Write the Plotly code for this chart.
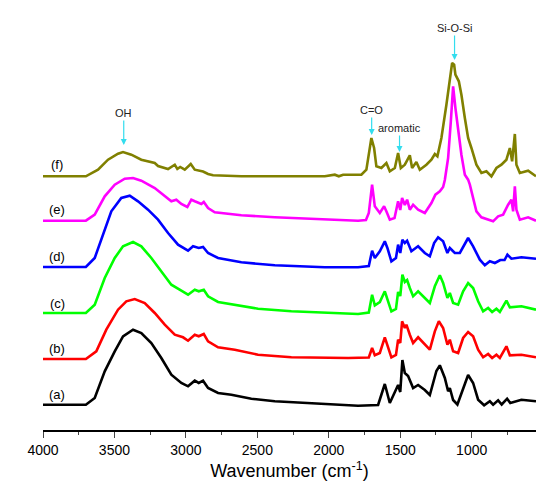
import plotly.graph_objects as go

# FTIR spectra (a)-(f), stacked, intensity in a.u. as plotted
wn_a = [4000, 3700, 3638, 3568, 3498, 3440, 3370, 3312, 3242, 3172, 3102, 3032, 2985, 2938, 2910, 2880, 2845, 2775,
        2682, 2542, 2378, 2145, 1795, 1655, 1608, 1573, 1515, 1500, 1485, 1468, 1445, 1410, 1375, 1328, 1293, 1247,
        1223, 1188, 1165, 1153, 1130, 1100, 1060, 1025, 990, 955, 913, 873, 850, 815, 790, 752, 730, 652, 550]
ab_a = [25.3, 25.3, 32, 58.7, 78.7, 93.7, 100.3, 97, 87, 72, 55.3, 47, 43.7, 49.3, 47, 49.3, 42, 37,
        35.3, 31.3, 28.7, 27, 24.3, 25, 46, 27, 45, 38, 70, 57, 54, 42, 45, 40, 35, 59,
        64.7, 52, 38.7, 42, 30, 25.5, 42, 55, 47, 30.3, 24.7, 28.7, 25.3, 29.7, 25.5, 31.3, 27, 30.3, 28.7]

wn_b = [4000, 3700, 3627, 3557, 3475, 3417, 3358, 3288, 3218, 3148, 3078, 3020, 2985, 2938, 2910, 2875, 2845, 2775,
        2658, 2495, 2262, 1865, 1720, 1697, 1678, 1643, 1608, 1590, 1562, 1530, 1515, 1500, 1487, 1468, 1457, 1433,
        1410, 1375, 1340, 1293, 1258, 1230, 1200, 1170, 1153, 1130, 1095, 1060, 1025, 990, 955, 920, 885, 857, 827,
        803, 757, 733, 652, 550]
ab_b = [71, 71, 78.7, 100.3, 120.3, 128.7, 131, 127, 117, 105.3, 95.3, 92.7, 89.3, 95.3, 93.7, 96, 88.7, 82.7,
        80.3, 75.3, 72.7, 72, 72.5, 82, 74.7, 77, 92.7, 85, 72.7, 75, 90.3, 87, 108.7, 102, 105.3, 95.3,
        87, 92.7, 87, 80.3, 98.7, 108.7, 102, 85.3, 90.3, 78.7, 77, 92, 98, 93.7, 80.3, 72.7, 76, 72, 75.3,
        72, 83.7, 74.7, 75.3, 72.7]

wn_c = [4000, 3700, 3638, 3568, 3498, 3440, 3370, 3312, 3242, 3172, 3102, 3032, 2985, 2938, 2910, 2875, 2845, 2775,
        2658, 2495, 2262, 1795, 1720, 1697, 1678, 1643, 1608, 1590, 1562, 1530, 1515, 1500, 1485, 1468, 1452, 1433,
        1410, 1375, 1340, 1293, 1258, 1223, 1200, 1170, 1153, 1130, 1095, 1060, 1025, 990, 955, 920, 885, 857, 827,
        803, 757, 733, 652, 550]
ab_c = [117, 117, 125.3, 152, 172, 183.7, 188, 183.7, 172, 158.7, 145.3, 139.3, 135.3, 140.3, 138.7, 140.3, 133.7, 128,
        125.3, 121.3, 118.7, 116, 117.5, 135.3, 124.7, 128, 138.7, 131, 118.7, 121, 138, 134, 155.3, 148, 150, 142,
        133.7, 138.7, 133.7, 127, 143.7, 154.7, 147, 132, 137, 127, 125.3, 138.7, 147, 142, 128.7, 118.7, 122, 118, 121.3,
        118, 129.3, 122.7, 123.7, 120.3]

wn_d = [4000, 3700, 3638, 3580, 3522, 3452, 3393, 3335, 3265, 3195, 3125, 3055, 2985, 2950, 2910, 2880, 2845, 2775,
        2612, 2378, 2028, 1795, 1720, 1697, 1678, 1643, 1608, 1590, 1562, 1530, 1515, 1500, 1485, 1468, 1452, 1422,
        1375, 1328, 1293, 1263, 1235, 1200, 1170, 1153, 1118, 1083, 1053, 1025, 990, 943, 908, 873, 838, 800, 770,
        750, 722, 652, 550]
ab_d = [163, 163, 172, 195.3, 218.7, 232, 234.3, 228.7, 220.3, 210.3, 197, 185.3, 179.3, 183.7, 182, 183, 177, 172,
        167.7, 164.7, 162.7, 162.7, 164, 179.3, 172, 178.7, 188.7, 182, 168.7, 172, 185.3, 177, 190.3, 187, 189.3, 178.7,
        183.7, 177, 173.7, 187, 192.7, 188.7, 177, 182, 177, 177, 185.3, 192, 183.7, 170.3, 164.7, 168.7, 167, 170, 170,
        175.3, 171.3, 172.7, 171.3]

wn_e = [4000, 3700, 3638, 3568, 3498, 3428, 3370, 3312, 3218, 3125, 3102, 3067, 3032, 2990, 2962, 2938, 2892, 2875,
        2845, 2798, 2612, 2378, 2028, 1795, 1740, 1720, 1697, 1678, 1643, 1613, 1595, 1573, 1540, 1515, 1500, 1487,
        1468, 1452, 1433, 1410, 1375, 1328, 1282, 1254, 1223, 1200, 1188, 1165, 1146, 1130, 1114, 1095, 1072, 1048,
        1025, 1013, 990, 967, 932, 885, 850, 815, 780, 745, 722, 710, 698, 687, 663, 605, 550]
ab_e = [209.3, 209.3, 215.3, 233.7, 245.3, 251.3, 252, 249.3, 242, 232, 228.7, 230.3, 226, 223, 230.3, 228.7, 226, 228,
        222, 217.7, 214.7, 212.7, 211, 209.3, 210, 217, 245.3, 223.7, 217, 223.7, 218, 210.3, 212, 228.7, 220, 232,
        225, 230.3, 220.3, 225.3, 220.3, 217, 227, 235.3, 238.7, 243, 250, 272, 308.7, 343.7, 322, 298.7, 275.3, 255.3,
        250.3, 245.3, 232, 218.7, 212.7, 210.3, 208.7, 213.7, 215.3, 225.3, 230.3, 218.7, 243.7, 220.3, 210.3, 212.7, 209.3]

wn_f = [4000, 3700, 3615, 3545, 3475, 3440, 3382, 3312, 3218, 3195, 3125, 3078, 3060, 3040, 3008, 2966, 2938, 2903,
        2880, 2845, 2810, 2612, 2028, 1958, 1930, 1900, 1795, 1772, 1737, 1713, 1702, 1683, 1667, 1632, 1597, 1573,
        1538, 1515, 1496, 1468, 1433, 1417, 1387, 1363, 1317, 1282, 1258, 1240, 1212, 1177, 1153, 1137, 1123, 1114,
        1090, 1072, 1048, 1025, 1002, 967, 932, 897, 862, 827, 792, 757, 733, 717, 698, 687, 663, 605, 550]
ab_f = [253.7, 253.7, 260.3, 270.3, 276.3, 278, 275.3, 270.3, 267, 264, 261, 265.3, 261, 263, 260.3, 266, 260.3, 259.3,
        258.5, 256, 254.7, 253.7, 253.7, 255.3, 253.7, 255.3, 254.7, 255.3, 260.3, 282, 292, 282, 263.7, 262, 267, 258.7,
        262, 277, 262, 265.3, 274.7, 262, 268, 260.3, 265.3, 270.3, 276, 273.7, 292, 325.3, 348.7, 367, 365.3, 355.3,
        348.7, 335.3, 312, 292, 282, 265.3, 257, 258.7, 253.7, 262, 265.3, 270.3, 282, 268.7, 296, 265.3, 257, 259.3, 253.7]

labels = ["(a)", "(b)", "(c)", "(d)", "(e)", "(f)"]
colors = ["#000000", "#FF0000", "#00FF00", "#0000FF", "#FF00FF", "#808000"]
series = [(wn_a, ab_a), (wn_b, ab_b), (wn_c, ab_c), (wn_d, ab_d), (wn_e, ab_e), (wn_f, ab_f)]
label_y = [36, 82, 127, 173.7, 220.3, 265.3]

# band assignments: (text, arrow x, arrow tip y, text offset above tip in px)
bands = [("OH", 3435, 285, 32),
         ("C=O", 1700, 295, 25),
         ("aromatic", 1505, 278, 24),
         ("Si-O-Si", 1120, 370, 32)]

tick_vals = [4000, 3500, 3000, 2500, 2000, 1500, 1000]

fig = go.Figure()
for (wn, ab), c, lab in zip(series, colors, labels):
    if len(wn) != len(ab):
        raise ValueError(lab)
    fig.add_trace(go.Scatter(x=wn, y=ab, mode="lines", line=dict(color=c, width=2.6),
                             name=lab, showlegend=False))

for lab, y in zip(labels, label_y):
    fig.add_annotation(x=3900, y=y, text=lab, showarrow=False,
                       font=dict(size=13, color="black"))

for txt, axx, tip, off in bands:
    fig.add_annotation(x=axx, y=tip, text=txt, showarrow=True, ax=0, ay=-off,
                       font=dict(size=11, color="#222222"), borderpad=1,
                       arrowhead=2, arrowsize=1, arrowwidth=1.2, arrowcolor="#33DDEE")

fig.update_layout(
    width=550, height=487,
    margin=dict(l=35, r=22, t=0, b=65),
    plot_bgcolor="white", paper_bgcolor="white",
    font=dict(family="Arial, Liberation Sans, sans-serif", color="black"),
)
fig.update_xaxes(range=[4000, 550], tickvals=tick_vals, ticks="outside", ticklen=6,
                 tickfont=dict(size=14), showgrid=False, zeroline=False,
                 showline=True, linecolor="black", linewidth=1.5,
                 minor=dict(tickvals=[3750, 3250, 2750, 2250, 1750, 1250, 750], ticks="outside", ticklen=3),
                 title=dict(text="Wavenumber (cm<sup>-1</sup>)", font=dict(size=18), standoff=8))
fig.update_yaxes(range=[0, 422], visible=False)

fig.write_html("out.html")
